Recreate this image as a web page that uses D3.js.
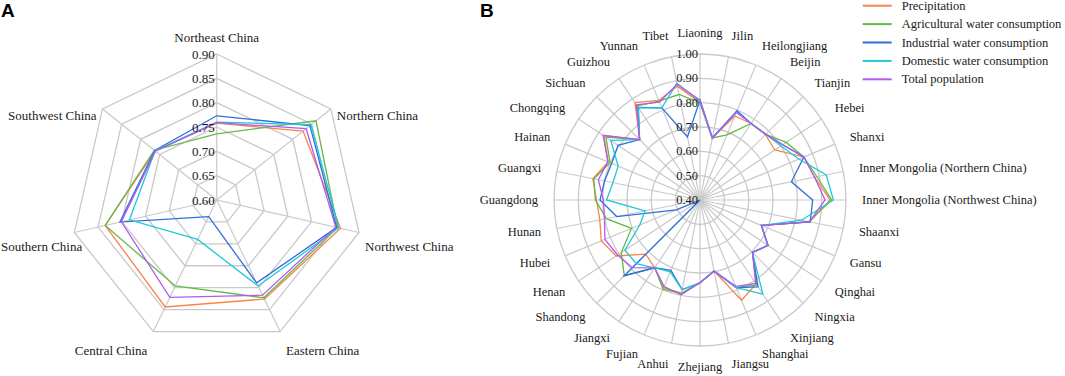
<!DOCTYPE html>
<html><head><meta charset="utf-8">
<script src="https://cdn.jsdelivr.net/npm/d3@7"></script>
<style>
body{margin:0;background:#fff}
</style></head>
<body><svg id="chart" width="1065" height="376"></svg>
<script>
// ---------- data ----------
const seriesNames = ["Precipitation","Agricultural water consumption","Industrial water consumption","Domestic water consumption","Total population"];
const seriesColors = ["#F7844C","#62B946","#2C6FD8","#22C7D6","#B259F2"];

const regionsA = ["Northeast China","Northern China","Northwest China","Eastern China","Central China","Southern China","Southwest China"];
const precipA = [0.758,0.827,0.861,0.826,0.844,0.835,0.762];
const agriA   = [0.736,0.861,0.855,0.823,0.796,0.835,0.764];
const indusA  = [0.773,0.845,0.853,0.789,0.638,0.804,0.763];
const domA    = [0.760,0.848,0.857,0.796,0.690,0.784,0.762];
const popA    = [0.759,0.835,0.851,0.817,0.822,0.801,0.761];
const ticksA  = [0.60,0.65,0.70,0.75,0.80,0.85,0.90];

const provincesB = ["Liaoning","Jilin","Heilongjiang","Beijin","Tianjin","Hebei","Shanxi","Inner Mongolia (Northern China)","Inner Mongolia (Northwest China)","Shaanxi","Gansu","Qinghai","Ningxia","Xinjiang","Shanghai","Jiangsu","Zhejiang","Anhui","Fujian","Jiangxi","Shandong","Henan","Hubei","Hunan","Guangdong","Guangxi","Hainan","Chongqing","Sichuan","Guizhou","Yunnan","Tibet"];
const precipB = [0.800,0.660,0.774,0.778,0.780,0.770,0.862,0.880,0.935,0.859,0.673,0.736,0.705,0.815,0.846,0.698,0.740,0.790,0.790,0.735,0.715,0.814,0.839,0.820,0.825,0.849,0.808,0.875,0.751,0.881,0.843,0.877];
const agriB   = [0.800,0.660,0.690,0.778,0.782,0.826,0.862,0.890,0.941,0.855,0.673,0.736,0.705,0.820,0.790,0.698,0.740,0.792,0.797,0.735,0.840,0.789,0.705,0.792,0.830,0.845,0.800,0.865,0.751,0.865,0.840,0.842];
const indusB  = [0.811,0.660,0.797,0.778,0.782,0.809,0.862,0.783,0.863,0.862,0.673,0.736,0.705,0.829,0.790,0.698,0.740,0.775,0.713,0.735,0.840,0.400,0.505,0.749,0.811,0.800,0.793,0.805,0.751,0.858,0.810,0.664];
const domB    = [0.805,0.660,0.790,0.778,0.782,0.800,0.840,0.929,0.948,0.826,0.673,0.736,0.705,0.865,0.790,0.698,0.740,0.776,0.720,0.735,0.770,0.771,0.668,0.630,0.784,0.765,0.764,0.841,0.751,0.855,0.810,0.889];
const popB    = [0.810,0.660,0.790,0.778,0.782,0.809,0.862,0.880,0.914,0.859,0.673,0.736,0.705,0.812,0.784,0.698,0.740,0.797,0.785,0.735,0.793,0.807,0.823,0.800,0.797,0.826,0.810,0.879,0.751,0.870,0.835,0.885];
const ticksB  = [0.40,0.50,0.60,0.70,0.80,0.90,1.00];

// ---------- drawing ----------
const SERIF = "'Liberation Serif','Times New Roman','DejaVu Serif',serif";
const svg = d3.select("#chart");
const gridColor = "#c9c9c9";

function txt(sel, fs){
  return sel.attr("font-family",SERIF).attr("font-size",fs).attr("fill","#1a1a1a");
}

function radar(opt){
  const g = svg.append("g").attr("transform",`translate(${opt.cx},${opt.cy})`);
  const n = opt.cats.length;
  const ang = d3.scaleLinear().domain([0,n]).range([0,2*Math.PI]);
  const r = d3.scaleLinear().domain([opt.ticks[0],opt.ticks[opt.ticks.length-1]]).range([0,opt.R]);
  const idx = d3.range(n);
  opt.ticks.slice(1).forEach(t=>{
    if(opt.polygon){
      const ring = d3.lineRadial().angle(i=>ang(i)).radius(()=>r(t)).curve(d3.curveLinearClosed);
      g.append("path").attr("d",ring(idx)).attr("fill","none").attr("stroke",gridColor).attr("stroke-width",1.3);
    } else {
      g.append("circle").attr("r",r(t)).attr("fill","none").attr("stroke",gridColor).attr("stroke-width",1.3);
    }
  });
  idx.forEach(i=>{
    const a = ang(i);
    g.append("line").attr("x1",0).attr("y1",0)
      .attr("x2",opt.R*Math.sin(a)).attr("y2",-opt.R*Math.cos(a))
      .attr("stroke",gridColor).attr("stroke-width",1.2);
  });
  const line = d3.lineRadial().angle((d,i)=>ang(i)).radius(d=>r(d)).curve(d3.curveLinearClosed);
  opt.series.forEach((s,k)=>{
    g.append("path").attr("d",line(s)).attr("fill","none")
      .attr("stroke",seriesColors[k]).attr("stroke-width",1.3);
  });
  opt.ticks.forEach(t=>{
    txt(g.append("text"),opt.fs).attr("x",-2).attr("y",-r(t)).attr("text-anchor","end")
      .attr("dominant-baseline","central").text(d3.format(".2f")(t));
  });
  opt.cats.forEach((c,i)=>{
    const a = ang(i), s = Math.sin(a), co = Math.cos(a);
    let x,y,anchor;
    if(opt.polygon){
      const vx = opt.R*s, vy = -opt.R*co;
      if(Math.abs(s)<0.05){ x=vx; y=vy-17; anchor="middle"; }
      else { x = vx + (s>0?6:-6); y = vy + 12 - 8*co; anchor = s>0?"start":"end"; }
    } else {
      const RL = opt.R + 16;
      x = RL*s; y = -(RL+5*Math.abs(co))*co;
      anchor = Math.abs(s)<0.05 ? "middle" : (s>0?"start":"end");
    }
    const t = txt(g.append("text"),opt.fs).attr("x",x).attr("y",y).attr("text-anchor",anchor)
      .attr("dominant-baseline","central").text(c);
    const bb = t.node().getBBox();
    const left = opt.cx + bb.x;
    if(left < 1) t.attr("x", x + (1-left));
  });
}

radar({cx:216.7, cy:200, R:146, cats:regionsA, ticks:ticksA, polygon:true, fs:13,
       series:[precipA,agriA,indusA,domA,popA]});
radar({cx:700, cy:200, R:146, cats:provincesB, ticks:ticksB, polygon:false, fs:12.5,
       series:[precipB,agriB,indusB,domB,popB]});

svg.append("text").attr("x",1).attr("y",17).attr("font-family","'Liberation Sans',Arial,sans-serif")
  .attr("font-weight","bold").attr("font-size",19).attr("fill","#000").text("A");
svg.append("text").attr("x",480).attr("y",17).attr("font-family","'Liberation Sans',Arial,sans-serif")
  .attr("font-weight","bold").attr("font-size",19).attr("fill","#000").text("B");

const leg = svg.append("g");
const legY = d3.scaleLinear().domain([0,4]).range([5.7,79.3]);
seriesNames.forEach((nm,k)=>{
  const y = legY(k);
  leg.append("line").attr("x1",862.7).attr("x2",891.7).attr("y1",y).attr("y2",y)
    .attr("stroke",seriesColors[k]).attr("stroke-width",2);
  txt(leg.append("text"),12.5).attr("x",901.7).attr("y",y).attr("dominant-baseline","central").text(nm);
});
</script></body></html>
